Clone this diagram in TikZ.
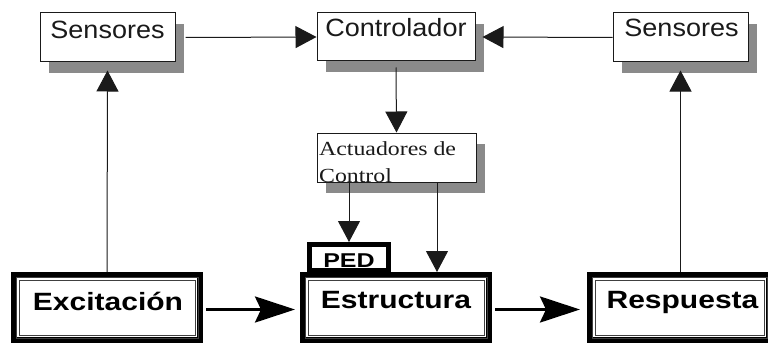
\documentclass[tikz,border=0pt]{standalone}
\usepackage{fontspec}
\usetikzlibrary{arrows.meta,shadows,calc}
\newfontfamily\sansN[FakeStretch=1.08]{Liberation Sans}
\newfontfamily\sansB[FakeStretch=1.2]{Liberation Sans Bold}
\newfontfamily\sansP[FakeStretch=1.25]{Liberation Sans Bold}
\newfontfamily\serifA[FakeStretch=1.19]{Liberation Serif}
\definecolor{shadowgray}{HTML}{8A8A8A}
\definecolor{ink}{HTML}{1A1A1A}
\tikzset{
  sbox/.style={draw=ink, line width=1pt, fill=white, inner sep=0pt,
    drop shadow={shadow xshift=9pt, shadow yshift=-11pt, fill=shadowgray, opacity=1}},
  bigbox/.style={draw=black, line width=6pt, fill=white, inner sep=0pt,
    minimum height=65pt},
  innerline/.style={draw=black!75, line width=1pt},
  pedbox/.style={draw=black, line width=5pt, fill=white, inner sep=0pt,
    minimum width=79pt, minimum height=26pt},
  ntext/.style={font=\sansN\fontsize{25}{30}\selectfont, text=ink, inner sep=0pt, anchor=base},
  btext/.style={font=\sansB\fontsize{25}{30}\selectfont, text=black, inner sep=0pt, anchor=base},
  thinarr/.style={draw=ink, line width=1pt, -{Triangle[length=21pt,width=22pt]}},
  thickarr/.style={draw=black, line width=3pt, -{Stealth[length=40pt,width=26pt,inset=6pt]}},
}
\begin{document}
\begin{tikzpicture}[x=1pt,y=-1pt]
\useasboundingbox (0,0) rectangle (768,345);
\clip (0,0) rectangle (768,345);
% thin boxes
\node[sbox, minimum width=135pt, minimum height=49pt] (sL) at (107.5,37.5) {};
\node[sbox, minimum width=158pt, minimum height=48pt] (ctl) at (396,37) {};
\node[sbox, minimum width=135pt, minimum height=49pt] (sR) at (680.5,37.5) {};
\node[sbox, minimum width=159pt, minimum height=49pt] (act) at (396.5,157.5) {};
% PED box
\node[pedbox] (ped) at (349,257.5) {};
% big boxes
\node[bigbox, minimum width=186pt] (exc) at (107,307.5) {};
\node[bigbox, minimum width=186pt] (est) at (396,307.5) {};
\node[bigbox, minimum width=179pt] (resp) at (679.5,307.5) {};
\foreach \b in {exc,est,resp}{
  \draw[innerline] ([shift={(5pt,-5pt)}]\b.north west) rectangle ([shift={(-5pt,5pt)}]\b.south east);
  \draw[innerline] ([shift={(8pt,-8pt)}]\b.north west) rectangle ([shift={(-8pt,8pt)}]\b.south east);
}
% texts
\node[ntext] (tsL) at (107.5,38) {Sensores};
\node[ntext] (tctl) at (396,37) {Controlador};
\node[ntext] (tsR) at (681.5,37) {Sensores};
\node[font=\serifA\fontsize{20}{27}\selectfont, text=ink, inner sep=0pt, anchor=base west, align=left] (tact) at (319,182) {Actuadores de\\Control};
\node[font=\sansP\fontsize{20}{24}\selectfont, text=black, inner sep=0pt, anchor=base] (tped) at (349,267) {PED};
\node[btext] (texc) at (108,310) {Excitación};
\node[btext] (test) at (396,308) {Estructura};
\node[btext] (tresp) at (682.5,308) {Respuesta};
% connectors
\coordinate (a2) at (437,182);
\draw[thinarr] (exc.north) -- ([yshift=-8pt]sL.south);
\draw[thinarr] ([xshift=10pt]sL.east) -- (ctl.west);
\draw[thinarr] (sR.west) -- ([xshift=7pt]ctl.east);
\draw[thinarr] ([yshift=-6pt]ctl.south) -- (act.north);
\draw[thinarr] (act.south -| ped.north) -- (ped.north);
\draw[thinarr] (a2) -- (a2 |- est.north);
\draw[thinarr] (resp.north -| sR.south) -- ([yshift=-8pt]sR.south);
\draw[thickarr] ([shift={(3pt,-2pt)}]exc.east) -- ([shift={(-5pt,-2pt)}]est.west);
\draw[thickarr] ([shift={(3pt,-2pt)}]est.east) -- ([shift={(-7pt,-2pt)}]resp.west);
\end{tikzpicture}
\end{document}
